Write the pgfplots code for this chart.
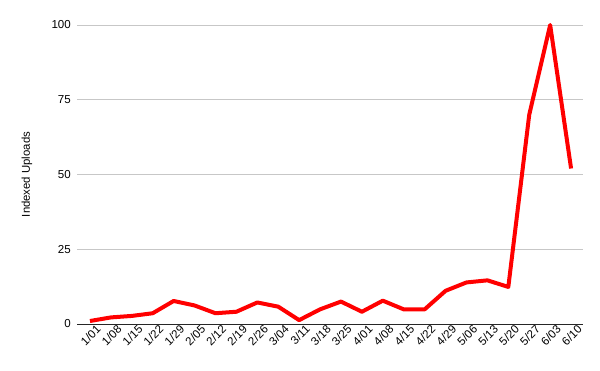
\documentclass[border=0pt]{standalone}
\usepackage{fontspec}
\setmainfont{Liberation Sans}
\usepackage{pgfplots}
\pgfplotsset{compat=1.18}
\begin{document}
\begin{tikzpicture}
\useasboundingbox (-77bp,-47bp) rectangle (523bp,324bp);
\begin{axis}[
  at={(0,0)}, anchor=south west,
  scale only axis,
  width=506bp, height=299bp,
  xmin=-0.62, xmax=23.57,
  ymin=0, ymax=100,
  ytick={0,25,50,75,100},
  xtick={0,...,23},
  xticklabels={1/01,1/08,1/15,1/22,1/29,2/05,2/12,2/19,2/26,3/04,3/11,3/18,3/25,4/01,4/08,4/15,4/22,4/29,5/06,5/13,5/20,5/27,6/03,6/10},
  xticklabel style={rotate=45, anchor=north east, font=\fontsize{11.6}{13}\selectfont, inner sep=0pt, xshift=4pt, yshift=-4pt},
  yticklabel style={font=\fontsize{11.6}{13}\selectfont, inner sep=0pt, xshift=-6pt},
  /pgf/number format/assume math mode=true,
  ymajorgrids, grid style={draw=black!22, line width=0.6pt},
  axis line style={draw=none},
  major tick length=0pt,
  ylabel={Indexed Uploads},
  ylabel style={font=\fontsize{11.4}{13}\selectfont, at={(axis description cs:-0.0988,0.5)}, anchor=center},
  clip=false,
]
\draw[black!85, line width=0.8pt] (axis cs:-0.62,0) -- (axis cs:23.57,0);
\addplot[color=red, line width=4bp, line join=round] coordinates {
(0,1.0) (1,2.2) (2,2.7) (3,3.6) (4,7.7) (5,6.2) (6,3.6) (7,4.1) (8,7.2) (9,5.8)
(10,1.3) (11,4.9) (12,7.5) (13,4.1) (14,7.8) (15,4.9) (16,4.9) (17,11.1) (18,13.9) (19,14.6)
(20,12.4) (21,70) (22,100) (23,52)
};
\end{axis}
\end{tikzpicture}
\end{document}
